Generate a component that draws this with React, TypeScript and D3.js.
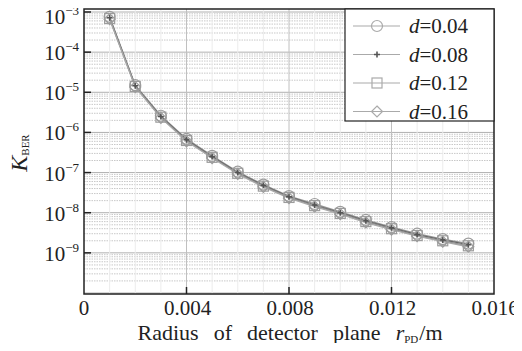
import React, { useEffect, useRef } from 'react';
import * as d3 from 'd3';

const radius = [0.001, 0.002, 0.003, 0.004, 0.005, 0.006, 0.007, 0.008, 0.009, 0.010, 0.011, 0.012, 0.013, 0.014, 0.015];
const kD004 = [7.6e-4, 1.5e-5, 2.6e-6, 6.9e-7, 2.6e-7, 1.05e-7, 5.0e-8, 2.6e-8, 1.65e-8, 1.05e-8, 6.6e-9, 4.4e-9, 3.0e-9, 2.2e-9, 1.7e-9];
const kD008 = [7.2e-4, 1.45e-5, 2.5e-6, 6.6e-7, 2.5e-7, 1.0e-7, 4.8e-8, 2.5e-8, 1.55e-8, 1.0e-8, 6.3e-9, 4.2e-9, 2.85e-9, 2.1e-9, 1.6e-9];
const kD012 = [6.9e-4, 1.4e-5, 2.4e-6, 6.3e-7, 2.4e-7, 9.6e-8, 4.6e-8, 2.4e-8, 1.5e-8, 9.6e-9, 6.0e-9, 4.0e-9, 2.7e-9, 2.0e-9, 1.5e-9];
const kD016 = [6.6e-4, 1.35e-5, 2.3e-6, 6.0e-7, 2.3e-7, 9.2e-8, 4.4e-8, 2.3e-8, 1.42e-8, 9.2e-9, 5.7e-9, 3.8e-9, 2.6e-9, 1.9e-9, 1.42e-9];
const seriesNames = ['0.04', '0.08', '0.12', '0.16'];
const seriesValues = [kD004, kD008, kD012, kD016];
const markerKinds = ['circle', 'plus', 'square', 'diamond'];
const xTicks = [0, 0.004, 0.008, 0.012, 0.016];
const xTickLabels = ['0', '0.004', '0.008', '0.012', '0.016'];
const yExponents = [-3, -4, -5, -6, -7, -8, -9];

const W = 522, H = 351;
const L = 84, R = 494, T = 9, B = 294;

function drawMarker(g: any, kind: string, cx: number, cy: number, color: string) {
  if (kind === 'circle') {
    g.append('circle').attr('cx', cx).attr('cy', cy).attr('r', 5.5)
      .attr('fill', 'none').attr('stroke', color).attr('stroke-width', 1.2);
  } else if (kind === 'plus') {
    g.append('path').attr('d', `M${cx - 3},${cy}H${cx + 3}M${cx},${cy - 3}V${cy + 3}`)
      .attr('stroke', '#555').attr('stroke-width', 1.6);
  } else if (kind === 'square') {
    g.append('rect').attr('x', cx - 5).attr('y', cy - 5).attr('width', 10).attr('height', 10)
      .attr('fill', 'none').attr('stroke', color).attr('stroke-width', 1.2);
  } else {
    g.append('path').attr('d', `M${cx},${cy - 5.5}L${cx + 5.5},${cy}L${cx},${cy + 5.5}L${cx - 5.5},${cy}Z`)
      .attr('fill', 'none').attr('stroke', color).attr('stroke-width', 1.2);
  }
}

const App: React.FC = () => {
  const ref = useRef<SVGSVGElement | null>(null);

  useEffect(() => {
    const svg = d3.select(ref.current);
    svg.selectAll('*').remove();

    const x = d3.scaleLinear().domain([0, 0.016]).range([L, R]);
    const y = d3.scaleLog().domain([1e-10, 1e-3]).range([B - 1, 12]);
    const font = '"Liberation Serif", "Times New Roman", serif';

    svg.append('rect').attr('x', 0).attr('y', 0).attr('width', W).attr('height', H).attr('fill', '#fff');

    // minor horizontal grid
    const grid = svg.append('g');
    for (let e = -10; e <= -3; e++) {
      for (let m = 1; m <= 9; m++) {
        const v = m * Math.pow(10, e);
        const yy = y(v);
        if (yy < T || yy > B) continue;
        grid.append('line').attr('x1', L).attr('x2', R).attr('y1', yy).attr('y2', yy)
          .attr('stroke', m === 1 ? '#b0b0b0' : '#c8c8c8').attr('stroke-width', 1)
          .attr('stroke-dasharray', m === 1 ? null : '1.5,1');
      }
    }
    // minor vertical grid
    for (let i = 1; i < 16; i++) {
      const xx = x(i * 0.001);
      grid.append('line').attr('x1', xx).attr('x2', xx).attr('y1', T).attr('y2', B)
        .attr('stroke', i % 4 === 0 ? '#c0c0c0' : '#ececec').attr('stroke-width', 1);
    }

    // series lines
    const line = d3.line<number>().x((_, i) => x(radius[i])).y(d => y(d));
    const lineColors = ['#9a9a9a', '#666', '#8a8a8a', '#a8a8a8'];
    seriesValues.forEach((vals, si) => {
      svg.append('path').datum(vals).attr('d', line).attr('fill', 'none')
        .attr('stroke', lineColors[si]).attr('stroke-width', 1.3);
    });
    seriesValues.forEach((vals, si) => {
      const mg = svg.append('g');
      vals.forEach((v, i) => drawMarker(mg, markerKinds[si], x(radius[i]), y(v), '#9c9c9c'));
    });

    // frame
    svg.append('rect').attr('x', L).attr('y', T).attr('width', R - L).attr('height', B - T)
      .attr('fill', 'none').attr('stroke', '#222').attr('stroke-width', 1.5);

    // y ticks
    yExponents.forEach(e => {
      const yy = y(Math.pow(10, e));
      svg.append('line').attr('x1', L).attr('x2', L + 7).attr('y1', yy).attr('y2', yy)
        .attr('stroke', '#222').attr('stroke-width', 1.5);
      const t = svg.append('text').attr('x', L - 5).attr('y', Math.max(yy + 8, 24)).attr('text-anchor', 'end')
        .attr('font-family', font).attr('font-size', 21).attr('fill', '#222');
      t.append('tspan').text('10');
      t.append('tspan').attr('dy', -9).attr('font-size', 13).text(`\u2212${-e}`);
    });

    // x ticks
    xTicks.forEach((v, i) => {
      const xx = x(v);
      if (i > 0 && i < xTicks.length - 1) {
        svg.append('line').attr('x1', xx).attr('x2', xx).attr('y1', B).attr('y2', B - 7)
          .attr('stroke', '#222').attr('stroke-width', 1.5);
      }
      svg.append('text').attr('x', i === 0 ? xx : xx + 1).attr('y', B + 21).attr('text-anchor', 'middle')
        .attr('font-family', font).attr('font-size', 21).attr('fill', '#222').text(xTickLabels[i]);
    });

    // x label, spread to the reference width
    const xl = svg.append('text').attr('x', 290).attr('y', 340).attr('text-anchor', 'middle')
      .attr('font-family', font).attr('font-size', 22).attr('fill', '#222');
    xl.append('tspan').text('Radius of detector plane ');
    xl.append('tspan').attr('font-style', 'italic').text('r');
    xl.append('tspan').attr('font-size', 11).attr('dy', 3).text('PD');
    xl.append('tspan').attr('dy', -3).attr('dx', 1).text('/m');
    const node = xl.node() as SVGTextElement | null;
    if (node && node.getComputedTextLength) {
      const len = node.getComputedTextLength();
      const extra = (304 - len) / 4;
      if (extra > 0) xl.attr('word-spacing', extra);
    }

    // y label
    const yl = svg.append('text').attr('transform', 'translate(27,153) rotate(-90)')
      .attr('text-anchor', 'middle').attr('font-family', font).attr('font-size', 24).attr('fill', '#222');
    yl.append('tspan').attr('font-style', 'italic').text('K');
    yl.append('tspan').attr('font-size', 11).attr('dy', 2).text('BER');

    // legend
    const lg = svg.append('g');
    lg.append('rect').attr('x', 345).attr('y', T).attr('width', R - 345).attr('height', 112)
      .attr('fill', '#fff').attr('stroke', '#222').attr('stroke-width', 1.2);
    seriesNames.forEach((name, i) => {
      const yy = 26 + i * 28.5;
      lg.append('line').attr('x1', 353).attr('x2', 400).attr('y1', yy).attr('y2', yy)
        .attr('stroke', '#aaa').attr('stroke-width', 1.2);
      drawMarker(lg, markerKinds[i], 377, yy, '#aaa');
      const t = lg.append('text').attr('x', 409).attr('y', yy + 7).attr('font-family', font)
        .attr('font-size', 21).attr('fill', '#222');
      t.append('tspan').attr('font-style', 'italic').text('d');
      t.append('tspan').text(`=${name}`);
    });
  }, []);

  return (
    <div>
      <svg ref={ref} width={W} height={H} style={{ display: 'block', margin: -8 }}></svg>
    </div>
  );
};

export default App;
